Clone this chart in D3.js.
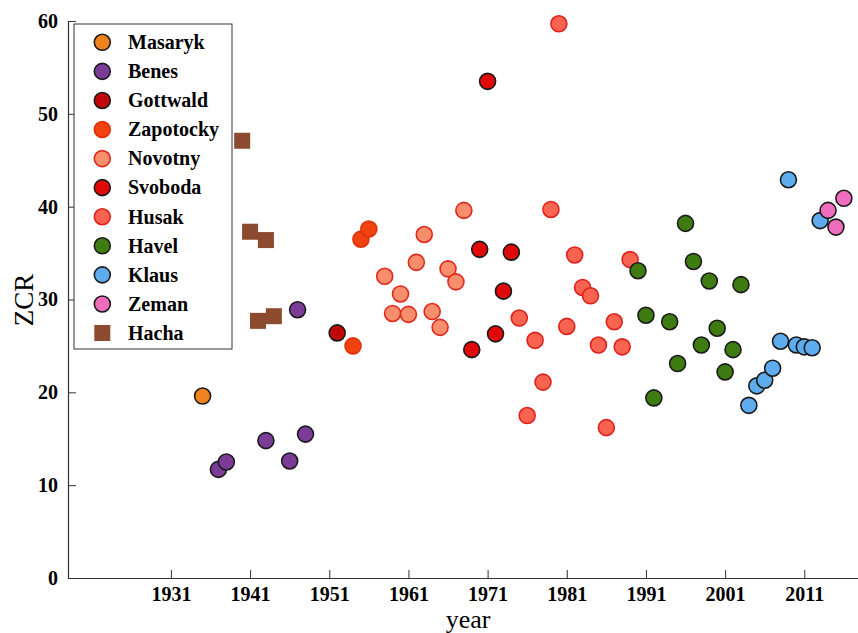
<!DOCTYPE html>
<html>
<head>
<meta charset="utf-8">
<script src="https://cdn.jsdelivr.net/npm/d3@7"></script>
<style>
  html, body { margin: 0; padding: 0; background: #fff; }
  svg { display: block; }
  text { font-family: "Liberation Serif", "Times New Roman", serif; }
</style>
</head>
<body>
<svg id="chart" width="858" height="633"></svg>
<script>
// ---- data ----
const masarykYears = [1935];
const masarykZCR   = [19.6];
const benesYears   = [1937, 1938, 1943, 1946, 1947, 1948];
const benesZCR     = [11.7, 12.5, 14.8, 12.6, 28.9, 15.5];
const gottwaldYears = [1952];
const gottwaldZCR   = [26.4];
const zapotockyYears = [1954, 1955, 1956];
const zapotockyZCR   = [25.0, 36.5, 37.6];
const novotnyYears = [1958, 1959, 1960, 1961, 1962, 1963, 1964, 1965, 1966, 1967, 1968];
const novotnyZCR   = [32.5, 28.5, 30.6, 28.4, 34.0, 37.0, 28.7, 27.0, 33.3, 31.9, 39.6];
const svobodaYears = [1969, 1970, 1971, 1972, 1973, 1974];
const svobodaZCR   = [24.6, 35.4, 53.5, 26.3, 30.9, 35.1];
const husakYears = [1975, 1976, 1977, 1978, 1979, 1980, 1981, 1982, 1983, 1984, 1985, 1986, 1987, 1988, 1989];
const husakZCR   = [28.0, 17.5, 25.6, 21.1, 39.7, 59.7, 27.1, 34.8, 31.3, 30.4, 25.1, 16.2, 27.6, 24.9, 34.3];
const havelYears = [1990, 1991, 1992, 1994, 1995, 1996, 1997, 1998, 1999, 2000, 2001, 2002, 2003];
const havelZCR   = [33.1, 28.3, 19.4, 27.6, 23.1, 38.2, 34.1, 25.1, 32.0, 26.9, 22.2, 24.6, 31.6];
const klausYears = [2004, 2005, 2006, 2007, 2008, 2009, 2010, 2011, 2012, 2013];
const klausZCR   = [18.6, 20.7, 21.3, 22.6, 25.5, 42.9, 25.1, 24.9, 24.8, 38.5];
const zemanYears = [2014, 2015, 2016];
const zemanZCR   = [39.6, 37.8, 40.9];
const hachaYears = [1940, 1941, 1943, 1942, 1944];
const hachaZCR   = [47.1, 37.3, 36.4, 27.7, 28.2];

const xTicks = [1931, 1941, 1951, 1961, 1971, 1981, 1991, 2001, 2011];
const yTicks = [0, 10, 20, 30, 40, 50, 60];

// series table: name, data, style
const series = [
  { name: "Masaryk",   years: masarykYears,   vals: masarykZCR,   fill: "#f0841c", stroke: "#1a1a1a", shape: "circle" },
  { name: "Benes",     years: benesYears,     vals: benesZCR,     fill: "#7b3c98", stroke: "#1a1a1a", shape: "circle" },
  { name: "Gottwald",  years: gottwaldYears,  vals: gottwaldZCR,  fill: "#c00808", stroke: "#1a1a1a", shape: "circle" },
  { name: "Zapotocky", years: zapotockyYears, vals: zapotockyZCR, fill: "#f2420f", stroke: "#e0300c", shape: "circle" },
  { name: "Novotny",   years: novotnyYears,   vals: novotnyZCR,   fill: "#f88e6c", stroke: "#e0281c", shape: "circle" },
  { name: "Svoboda",   years: svobodaYears,   vals: svobodaZCR,   fill: "#e00808", stroke: "#1a1a1a", shape: "circle" },
  { name: "Husak",     years: husakYears,     vals: husakZCR,     fill: "#f86450", stroke: "#e0201c", shape: "circle" },
  { name: "Havel",     years: havelYears,     vals: havelZCR,     fill: "#3e7c12", stroke: "#1a1a1a", shape: "circle" },
  { name: "Klaus",     years: klausYears,     vals: klausZCR,     fill: "#5eacee", stroke: "#1a1a1a", shape: "circle" },
  { name: "Zeman",     years: zemanYears,     vals: zemanZCR,     fill: "#f06cbc", stroke: "#1a1a1a", shape: "circle" },
  { name: "Hacha",     years: hachaYears,     vals: hachaZCR,     fill: "#8c4a2e", stroke: "none",    shape: "square" }
];

const svg = d3.select("#chart");
const x = d3.scaleLinear().domain([1918, 2018]).range([68, 859.7]);
const y = d3.scaleLinear().domain([0, 60]).range([578, 21]);

// axes
const xAxis = d3.axisBottom(x).tickValues(xTicks).tickFormat(d3.format("d"))
  .tickSizeInner(-8).tickSizeOuter(0).tickPadding(9);
const yAxis = d3.axisLeft(y).tickValues(yTicks)
  .tickSizeInner(-8).tickSizeOuter(0).tickPadding(10);

const gx = svg.append("g").attr("transform", `translate(0,${y(0)})`).call(xAxis);
const gy = svg.append("g").attr("transform", `translate(${x(1918)},0)`).call(yAxis);
[gx, gy].forEach(g => {
  g.select(".domain").attr("stroke", "#333").attr("stroke-width", 1.2);
  g.selectAll(".tick line").attr("stroke", "#333").attr("stroke-width", 1);
  g.selectAll(".tick text").attr("fill", "#000").style("font-size", "20px").style("font-weight", "bold")
    .style("font-family", "'Liberation Serif', serif");
});

// axis titles
svg.append("text").attr("x", 468).attr("y", 628).attr("text-anchor", "middle")
  .style("font-size", "26px").text("year");
svg.append("text").attr("transform", `translate(33,300) rotate(-90)`).attr("text-anchor", "middle")
  .style("font-size", "27px").text("ZCR");

// points
const R = 8;
const gp = svg.append("g");
series.forEach(s => {
  const pts = s.years.map((yr, i) => ({ yr, v: s.vals[i] }));
  if (s.shape === "circle") {
    gp.selectAll(null).data(pts).enter().append("circle")
      .attr("cx", d => x(d.yr)).attr("cy", d => y(d.v)).attr("r", R)
      .attr("fill", s.fill).attr("stroke", s.stroke).attr("stroke-width", 1.6);
  } else {
    gp.selectAll(null).data(pts).enter().append("rect")
      .attr("x", d => x(d.yr) - R).attr("y", d => y(d.v) - R)
      .attr("width", 2 * R).attr("height", 2 * R)
      .attr("fill", s.fill);
  }
});

// legend
const lg = svg.append("g");
lg.append("rect").attr("x", 74).attr("y", 24).attr("width", 158).attr("height", 325)
  .attr("fill", "#fff").attr("stroke", "#333").attr("stroke-width", 1);
series.forEach((s, i) => {
  const cy = 42.3 + i * 29.07;
  if (s.shape === "circle") {
    lg.append("circle").attr("cx", 102.3).attr("cy", cy).attr("r", R)
      .attr("fill", s.fill).attr("stroke", s.stroke).attr("stroke-width", 1.6);
  } else {
    lg.append("rect").attr("x", 102.3 - R).attr("y", cy - R).attr("width", 2 * R).attr("height", 2 * R)
      .attr("fill", s.fill);
  }
  lg.append("text").attr("x", 128).attr("y", cy).attr("dy", "0.34em")
    .style("font-size", "20px").style("font-weight", "bold").text(s.name);
});
</script>
</body>
</html>
